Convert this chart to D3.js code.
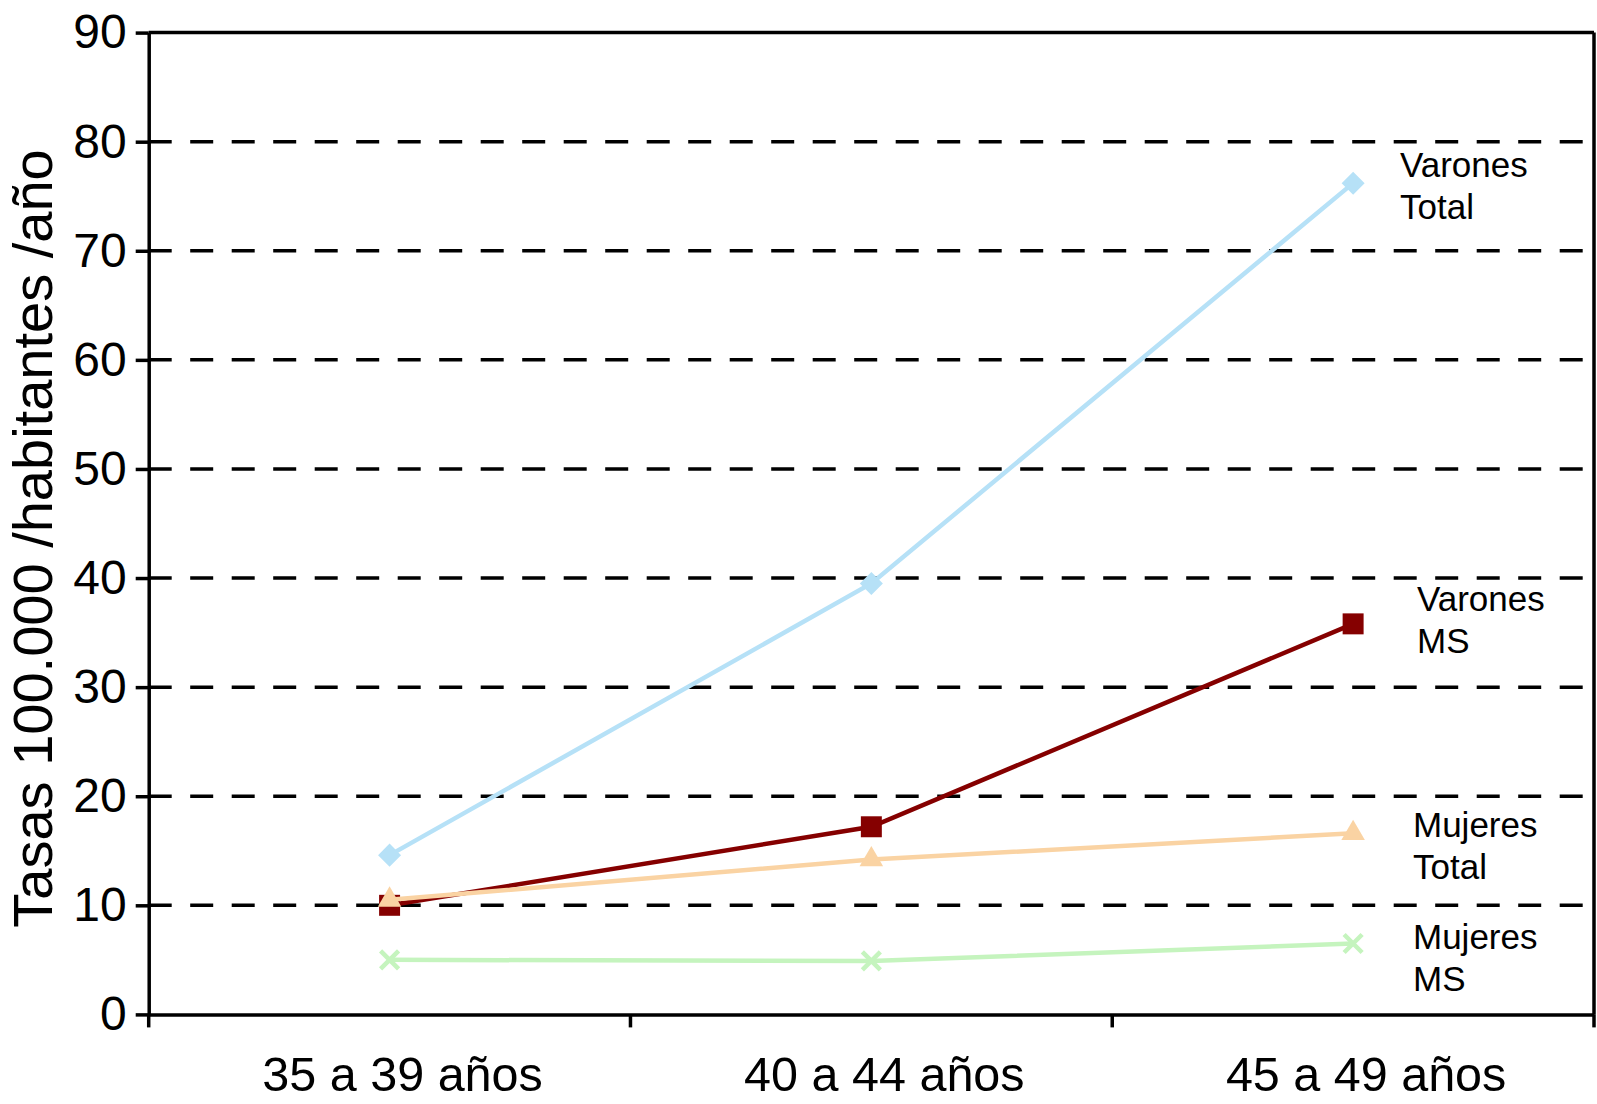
<!DOCTYPE html>
<html><head><meta charset="utf-8">
<script src="https://cdn.jsdelivr.net/npm/d3@7"></script>
<style>html,body{margin:0;padding:0;background:#fff;}svg{display:block;font-family:"Liberation Sans",Arial,Helvetica,sans-serif;}</style>
</head><body>
<script>
const categories = ["35 a 39 años", "40 a 44 años", "45 a 49 años"];
const yTicks = [0, 10, 20, 30, 40, 50, 60, 70, 80, 90];
const gridValues = [10, 20, 30, 40, 50, 60, 70, 80];
const varonesTotal = [14.6, 39.5, 76.2];
const varonesMS = [10.0, 17.2, 35.8];
const mujeresTotal = [10.5, 14.2, 16.6];
const mujeresMS = [5.0, 4.9, 6.5];
const seriesNames = [["Varones", "Total"], ["Varones", "MS"], ["Mujeres", "Total"], ["Mujeres", "MS"]];
const yTitle = "Tasas 100.000 /habitantes /año";

(function () {
const W = 1597, H = 1104;
const mLeft = 148.7, mRight = 1594, mTop = 32.6, mBottom = 1014.4;
const svg = d3.select("body").append("svg").attr("width", W).attr("height", H);

const x = d3.scaleBand().domain(categories).range([mLeft, mRight]).paddingInner(0).paddingOuter(0);
const y = d3.scaleLinear().domain([0, 90]).range([mBottom, mTop]);
const cx = c => x(c) + x.bandwidth() / 2;

// gridlines
svg.append("g").selectAll("line").data(gridValues).join("line")
  .attr("x1", mLeft).attr("x2", mRight).attr("y1", d => y(d)).attr("y2", d => y(d))
  .attr("stroke", "#000").attr("stroke-width", 3.5).attr("stroke-dasharray", "23,18.5");

// top & right border
svg.append("line").attr("x1", mLeft).attr("x2", mRight).attr("y1", y(90)).attr("y2", y(90)).attr("stroke", "#000").attr("stroke-width", 3.5);
svg.append("line").attr("x1", mRight).attr("x2", mRight).attr("y1", y(90)).attr("y2", mBottom).attr("stroke", "#000").attr("stroke-width", 3.5);

// y axis
const yAxis = svg.append("g").attr("transform", `translate(${mLeft},0)`)
  .call(d3.axisLeft(y).tickValues(yTicks).tickSize(13).tickPadding(9).tickSizeOuter(0));
yAxis.select(".domain").attr("stroke-width", 3.5);
yAxis.selectAll(".tick line").attr("stroke-width", 3.5);
yAxis.selectAll(".tick text").attr("font-size", 48).attr("fill", "#000").attr("font-family", "Liberation Sans, Arial, sans-serif");

// x axis
const xAxis = svg.append("g").attr("transform", `translate(0,${mBottom})`)
  .call(d3.axisBottom(x).tickSize(0).tickPadding(0).tickSizeOuter(0));
xAxis.select(".domain").attr("stroke-width", 3.5);
xAxis.selectAll(".tick text").attr("font-size", 48.5).attr("fill", "#000").attr("font-family", "Liberation Sans, Arial, sans-serif")
  .attr("dy", 0).attr("y", 77).attr("dx", 13);
const bounds = [...categories.map(c => x(c)), x(categories[categories.length - 1]) + x.bandwidth()];
svg.append("g").selectAll("line").data(bounds).join("line")
  .attr("x1", d => d).attr("x2", d => d).attr("y1", mBottom).attr("y2", mBottom + 13)
  .attr("stroke", "#000").attr("stroke-width", 3.5);

// y title
svg.append("text").attr("transform", `translate(52,${(mTop + mBottom) / 2 + 15}) rotate(-90)`)
  .attr("text-anchor", "middle").attr("font-size", 56).attr("fill", "#000").text(yTitle);

const series = [
  {vals: varonesTotal, color: "#B6E1F7", sym: "diamond"},
  {vals: varonesMS, color: "#850000", sym: "square"},
  {vals: mujeresTotal, color: "#FAD3A3", sym: "triangle"},
  {vals: mujeresMS, color: "#C5F4BE", sym: "x"}
];
const line = d3.line().x((d, i) => cx(categories[i])).y(d => y(d));

series.forEach(s => {
  const g = svg.append("g");
  g.append("path").attr("d", line(s.vals)).attr("fill", "none").attr("stroke", s.color).attr("stroke-width", 4.5);
  s.vals.forEach((v, i) => {
    const px = cx(categories[i]), py = y(v);
    if (s.sym === "diamond") {
      g.append("path").attr("d", d3.symbol(d3.symbolSquare, 265)()).attr("transform", `translate(${px},${py}) rotate(45)`).attr("fill", s.color);
    } else if (s.sym === "square") {
      g.append("path").attr("d", d3.symbol(d3.symbolSquare, 440)()).attr("transform", `translate(${px},${py})`).attr("fill", s.color);
    } else if (s.sym === "triangle") {
      g.append("path").attr("d", d3.symbol(d3.symbolTriangle, 240)()).attr("transform", `translate(${px},${py})`).attr("fill", s.color);
    } else {
      const r = 9;
      g.append("path").attr("d", `M${px - r},${py - r}L${px + r},${py + r}M${px - r},${py + r}L${px + r},${py - r}`)
        .attr("stroke", s.color).attr("stroke-width", 4.5).attr("fill", "none");
    }
  });
});

// series labels
const labelPos = [[1400, 177], [1417, 611], [1413, 837], [1413, 949]];
seriesNames.forEach((n, i) => {
  const t = svg.append("text").attr("font-size", 35).attr("fill", "#000");
  n.forEach((s, j) => t.append("tspan").attr("x", labelPos[i][0]).attr("y", labelPos[i][1] + j * 42).text(s));
});
})();
</script>
</body></html>
